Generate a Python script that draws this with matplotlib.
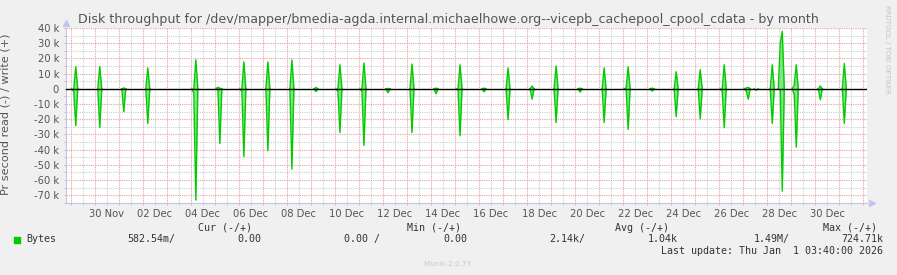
import matplotlib
matplotlib.use("Agg")
import matplotlib.pyplot as plt
import matplotlib.dates as mdates
from matplotlib.ticker import MultipleLocator, FuncFormatter
import numpy as np
import pandas as pd

# munin month graph, 2h samples; values in k (bytes per second)
sample_times = [
    "2025-11-29 03:00", "2025-11-29 05:00", "2025-11-30 05:00", "2025-12-01 05:00",
    "2025-12-02 05:00", "2025-12-04 03:00", "2025-12-04 05:00", "2025-12-05 03:00",
    "2025-12-05 05:00", "2025-12-06 03:00", "2025-12-06 05:00", "2025-12-07 05:00",
    "2025-12-08 05:00", "2025-12-09 05:00", "2025-12-10 03:00", "2025-12-10 05:00",
    "2025-12-11 03:00", "2025-12-11 05:00", "2025-12-12 05:00", "2025-12-13 05:00",
    "2025-12-14 05:00", "2025-12-15 03:00", "2025-12-15 05:00", "2025-12-16 05:00",
    "2025-12-17 05:00", "2025-12-18 05:00", "2025-12-19 05:00", "2025-12-20 05:00",
    "2025-12-21 05:00", "2025-12-22 03:00", "2025-12-22 05:00", "2025-12-23 05:00",
    "2025-12-24 05:00", "2025-12-25 05:00", "2025-12-26 03:00", "2025-12-26 05:00",
    "2025-12-27 03:00", "2025-12-27 05:00", "2025-12-27 13:00", "2025-12-28 05:00",
    "2025-12-28 13:00", "2025-12-28 15:00", "2025-12-29 03:00", "2025-12-29 05:00",
    "2025-12-30 05:00", "2025-12-31 05:00",
]
write_k = [
    0.0, 14.5, 14.6, 0.5,
    13.7, 0.0, 19.1, 1.0,
    0.4, 0.0, 17.7, 17.7,
    19.0, 0.8, 0.0, 15.8,
    0.0, 17.0, 0.2, 16.3,
    0.4, 0.0, 15.8, 0.4,
    13.7, 1.8, 15.0, 0.4,
    13.7, 0.5, 14.5, 0.4,
    11.2, 12.5, 0.0, 15.8,
    0.5, 0.9, 0.0, 15.8,
    30.0, 37.8, 2.5, 15.8,
    1.8, 16.6,
]
read_k = [
    1.8, 24.2, 25.5, 15.0,
    22.8, 3.0, 73.3, 0.0,
    36.0, 1.8, 44.6, 40.8,
    52.9, 1.8, 1.8, 28.8,
    1.8, 37.3, 2.6, 28.8,
    3.3, 0.7, 31.0, 2.0,
    20.3, 6.8, 22.2, 2.2,
    22.2, 0.5, 26.8, 1.5,
    18.3, 19.8, 1.8, 25.6,
    1.5, 6.8, 1.0, 22.8,
    1.0, 67.4, 4.0, 38.4,
    7.2, 22.8,
]

label_days = ["2025-11-30", "2025-12-02", "2025-12-04", "2025-12-06", "2025-12-08",
              "2025-12-10", "2025-12-12", "2025-12-14", "2025-12-16", "2025-12-18",
              "2025-12-20", "2025-12-22", "2025-12-24", "2025-12-26", "2025-12-28",
              "2025-12-30"]

legend_heads = ["Cur (-/+)", "Min (-/+)", "Avg (-/+)", "Max (-/+)"]
legend_vals = ["582.54m/", "0.00", "0.00 /", "0.00", "2.14k/", "1.04k", "1.49M/", "724.71k"]
last_update = "Last update: Thu Jan  1 03:40:00 2026"
title = ("Disk throughput for /dev/mapper/bmedia-agda.internal.michaelhowe.org"
         "--vicepb_cachepool_cpool_cdata - by month")

end = pd.Timestamp("2026-01-01 03:40")
start = end - pd.Timedelta(days=33.35)

# full 2h timeline, idle samples are zero
grid_t = pd.date_range("2025-11-28 19:00", "2026-01-01 03:00", freq="2h")
w = pd.Series(0.0, index=grid_t)
r = pd.Series(0.0, index=grid_t)
w[pd.to_datetime(sample_times)] = write_k
r[pd.to_datetime(sample_times)] = read_k
xs = mdates.date2num(grid_t)


def visible(v):
    # hide the flat idle stretches, they sit under the black zero rule anyway
    v = v.values * 1000
    busy = v != 0
    keep = busy | np.roll(busy, 1) | np.roll(busy, -1)
    return np.where(keep, v, np.nan)


W, H = 897, 275
fig = plt.figure(figsize=(W / 100, H / 100), dpi=100, facecolor="#f0f0f0")
ax = fig.add_axes([66 / W, 1 - 203 / H, 801 / W, 175 / H])
ax.set_facecolor("white")

green = "#00cc00"
light = "#86e286"
ax.fill_between(xs, 0, w.values * 1000, color=light, lw=0, zorder=3)
ax.fill_between(xs, 0, -r.values * 1000, color=light, lw=0, zorder=3)
ax.plot(xs, visible(w), color=green, lw=1.0, zorder=4)
ax.plot(xs, -visible(r), color=green, lw=1.0, zorder=4)
ax.axhline(0, color="black", lw=1.0, zorder=5)

ax.set_xlim(mdates.date2num(start), mdates.date2num(end))
ax.set_ylim(-75200, 40000)

# grid: red dotted majors, grey dotted minors
days = pd.date_range("2025-11-29", "2026-01-01", freq="D")
noons = days[:-1] + pd.Timedelta(hours=12)
ax.set_xticks(mdates.date2num(days))
ax.set_xticklabels([])
ax.set_xticks(mdates.date2num(noons), minor=True)
lab = set(pd.to_datetime(label_days).strftime("%Y-%m-%d"))
ax.set_xticklabels([d.strftime("%d %b") if d.strftime("%Y-%m-%d") in lab else ""
                    for d in noons], minor=True)

ax.yaxis.set_major_locator(MultipleLocator(10000))
ax.yaxis.set_minor_locator(MultipleLocator(5000))
ax.yaxis.set_major_formatter(FuncFormatter(lambda v, p: "0" if v == 0 else f"{int(v / 1000)} k"))

dot = (0, (1, 1))
ax.grid(which="major", color="#e8a0a0", lw=0.8, linestyle=dot, zorder=1)
ax.grid(which="minor", color="#cfcfcf", lw=0.8, linestyle=dot, zorder=1)
ax.set_axisbelow(True)

ax.tick_params(which="both", length=1.5, width=0.6, colors="#e8a0a0",
               labelcolor="#555555", labelsize=7.2)
ax.tick_params(axis="x", which="minor", colors="#cfcfcf", labelcolor="#555555", pad=3.0)
ax.tick_params(axis="y", which="major", pad=3.5)

for s in ["top", "right"]:
    ax.spines[s].set_visible(False)
for s in ["left", "bottom"]:
    ax.spines[s].set_color("#c4c4f0")
    ax.spines[s].set_linewidth(0.8)
ax.plot([1.006], [0], marker=">", ms=4, color="#c4c4f0", transform=ax.transAxes, clip_on=False)
ax.plot([0], [1.03], marker="^", ms=4, color="#c4c4f0", transform=ax.transAxes, clip_on=False)

ax.set_ylabel("Pr second read (-) / write (+)", fontsize=8.1, color="#555555")
ax.yaxis.set_label_coords(-(66 - 10.5) / 801, (203 - 114) / 175)


def px(x, y):
    return x / W, 1 - y / H


fig.text(*px(448, 19), title, ha="center", va="center", fontsize=9.1, color="#555555")
fig.text(*px(887, 5), "RRDTOOL / TOBI OETIKER", rotation=-90, ha="center", va="top",
         fontsize=5, color="#c4c4c4")

mono = dict(family="DejaVu Sans Mono", fontsize=7.2, color="#333333", va="center")
for x0, s in zip([198, 407, 615, 823], legend_heads):
    fig.text(*px(x0, 227.7), s, ha="left", **mono)
fig.patches.append(plt.Rectangle(px(14, 242.7), 6 / W, 6 / H, transform=fig.transFigure,
                                 color=green))
fig.text(*px(26, 239.3), "Bytes", ha="left", **mono)
for x0, s in zip([127, 237, 344, 443, 549, 648, 754, 841], legend_vals):
    fig.text(*px(x0, 239.3), s, ha="left", **mono)
fig.text(*px(883, 251), last_update, ha="right", **mono)
fig.text(*px(448, 264.3), "Munin 2.0.73", ha="center", va="center", fontsize=5.2, color="#c8c8c8")

fig.savefig("out.png", dpi=100, facecolor=fig.get_facecolor())
